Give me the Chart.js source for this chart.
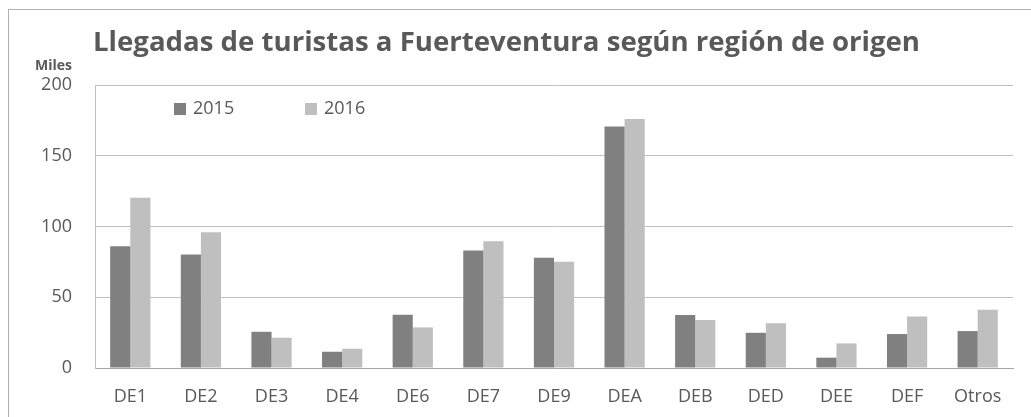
<!DOCTYPE html>
<html>
<head>
<meta charset="utf-8">
<script src="https://cdn.jsdelivr.net/npm/chart.js@4"></script>
<style>
  body { margin: 0; overflow: hidden; background: #fff; }
  #frame { position: absolute; left: 8px; top: 9px; width: 1100px; height: 500px;
           border-top: 1px solid #b0b0b0; border-left: 1px solid #b0b0b0; }
  #wrap { position: absolute; left: 0; top: 0; width: 1031px; height: 417px; }
</style>
</head>
<body>
<div id="frame"></div>
<div id="wrap"><canvas id="barChart" width="1031" height="417"></canvas></div>
<script>
'use strict';

// datos (miles de turistas)
const categories = ['DE1', 'DE2', 'DE3', 'DE4', 'DE6', 'DE7', 'DE9', 'DEA', 'DEB', 'DED', 'DEE', 'DEF', 'Otros'];
const values2015 = [86, 80.2, 25.6, 11.5, 37.6, 83, 78, 170.7, 37.4, 24.9, 7.3, 24, 26.1];
const values2016 = [120.4, 95.9, 21.4, 13.6, 28.7, 89.6, 75.2, 176, 33.9, 31.7, 17.4, 36.4, 41.1];
const yTicks = [0, 50, 100, 150, 200];

const FONT = '"Open Sans", "Noto Sans", sans-serif';
const TEXT = '#595959';

// leyenda dentro del area del grafico
const insideLegend = {
  id: 'insideLegend',
  afterDraw(chart) {
    const ctx = chart.ctx;
    const xs = [174, 305];
    ctx.save();
    ctx.font = '18px ' + FONT;
    ctx.textBaseline = 'middle';
    ctx.textAlign = 'left';
    chart.data.datasets.forEach(function(ds, i) {
      ctx.fillStyle = ds.backgroundColor;
      ctx.fillRect(xs[i], 103, 12, 12);
      ctx.fillStyle = TEXT;
      ctx.fillText(ds.label, xs[i] + 19, 109);
    });
    // unidad del eje
    ctx.font = 'bold 14px ' + FONT;
    ctx.textAlign = 'right';
    ctx.fillText('Miles', 72, 66);
    ctx.restore();
  }
};

let context = document.querySelector('#barChart').getContext('2d');
new Chart(context, {
  type: 'bar',
  data: {
    labels: categories,
    datasets: [
      { label: '2015', data: values2015, backgroundColor: '#808080' },
      { label: '2016', data: values2016, backgroundColor: '#bfbfbf' }
    ]
  },
  options: {
    responsive: false,
    animation: false,
    categoryPercentage: 0.57,
    barPercentage: 1,
    layout: { padding: { left: 0, right: 18, top: 0, bottom: 0 } },
    plugins: {
      legend: { display: false },
      tooltip: { enabled: false },
      title: {
        display: true,
        text: 'Llegadas de turistas a Fuerteventura según región de origen',
        color: TEXT,
        font: { family: FONT, size: 27.6, weight: 'bold' },
        padding: { top: 27, bottom: 25 }
      }
    },
    scales: {
      x: {
        grid: { display: false, drawTicks: false },
        border: { display: true, color: '#a6a6a6', width: 1 },
        ticks: { color: TEXT, font: { family: FONT, size: 18 }, padding: 18 },
        afterFit: function(s) { s.height = 49; }
      },
      y: {
        min: 0,
        max: 200,
        afterBuildTicks: function(s) { s.ticks = yTicks.map(function(v) { return { value: v }; }); },
        grid: { color: '#c0c0c0', drawTicks: false },
        border: { display: true, color: '#c0c0c0' },
        ticks: { color: TEXT, font: { family: FONT, size: 18 }, padding: 23 },
        afterFit: function(s) { s.width = 95; }
      }
    }
  },
  plugins: [insideLegend]
});
</script>
</body>
</html>
